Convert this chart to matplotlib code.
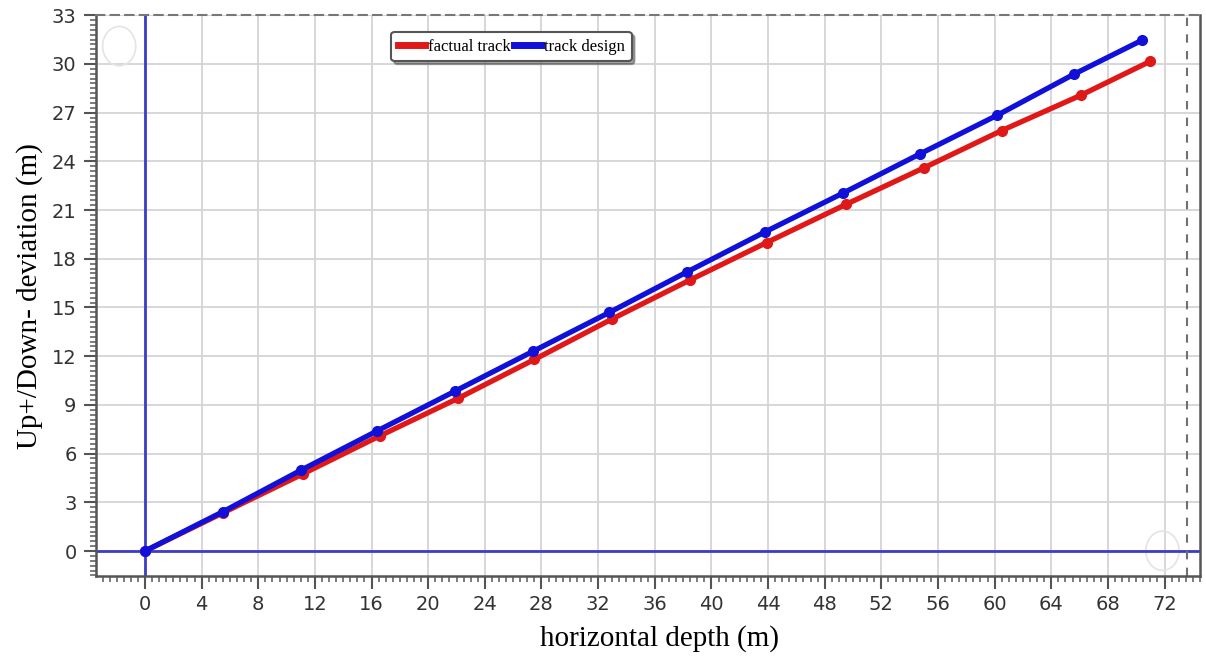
import matplotlib
matplotlib.use("Agg")
import matplotlib.pyplot as plt
from matplotlib.ticker import MultipleLocator
from matplotlib.patches import Ellipse

design_x = [0, 5.5, 11.0, 16.4, 21.9, 27.4, 32.8, 38.3, 43.75, 49.3, 54.7, 60.2, 65.6, 70.4]
design_y = [0, 2.42, 4.97, 7.4, 9.85, 12.3, 14.7, 17.2, 19.64, 22.05, 24.45, 26.85, 29.37, 31.46]
factual_x = [0, 5.5, 11.15, 16.6, 22.1, 27.5, 33.0, 38.5, 43.9, 49.5, 55.0, 60.5, 66.1, 71.0]
factual_y = [0, 2.35, 4.75, 7.1, 9.4, 11.8, 14.3, 16.7, 19.0, 21.35, 23.6, 25.9, 28.08, 30.17]

xticks = list(range(0, 73, 4))
yticks = list(range(0, 34, 3))

fig = plt.figure(figsize=(12.06, 6.64), dpi=100)
ax = fig.add_axes([0.0796, 0.1325, 0.9154, 0.8445])

ax.set_xlim(-3.46, 74.5)
ax.set_ylim(-1.54, 33)

ax.grid(True, color="#d4d4d4", lw=1.3)
ax.set_axisbelow(True)

ax.axvline(0, color="#3c3cc8", lw=2, zorder=2)
ax.axhline(0, color="#3c3cc8", lw=2, zorder=2)
ax.axvline(73.6, color="#707070", lw=1.5, ls=(0, (4, 4)), zorder=2)

ax.plot(factual_x, factual_y, color="#e01818", lw=3.8, marker="o", ms=7,
        label="factual track", zorder=3)
ax.plot(design_x, design_y, color="#1010d8", lw=3.8, marker="o", ms=7,
        label="track design", zorder=4)

# faint ghost circles in the corners
ax.add_patch(Ellipse((0.021, 0.945), 0.03, 0.07, transform=ax.transAxes,
                     fill=False, ec="#e4e4e4", lw=1.2))
ax.add_patch(Ellipse((0.966, 0.045), 0.03, 0.07, transform=ax.transAxes,
                     fill=False, ec="#e4e4e4", lw=1.2))

ax.set_xticks(xticks)
ax.set_yticks(yticks)
ax.xaxis.set_minor_locator(MultipleLocator(0.5))
ax.yaxis.set_minor_locator(MultipleLocator(0.3))
ax.tick_params(which="major", length=9, width=1.5, color="#555555",
               labelsize=14, labelcolor="#333333", pad=5)
ax.tick_params(which="minor", length=4, width=1.2, color="#666666")

for s in ["left", "bottom", "right"]:
    ax.spines[s].set_color("#555555")
    ax.spines[s].set_linewidth(1.8)
ax.spines["top"].set_linestyle((0, (4, 3)))
ax.spines["top"].set_color("#777777")
ax.spines["top"].set_linewidth(1.5)

ax.set_xlabel("horizontal depth (m)", fontsize=21, family="Liberation Serif")
ax.xaxis.set_label_coords(0.51, -0.088)
ax.set_ylabel("Up+/Down- deviation (m)", fontsize=21, family="Liberation Serif", labelpad=6)

leg = ax.legend(loc="upper left", bbox_to_anchor=(0.26, 0.985), ncol=2,
                prop={"family": "Liberation Serif", "size": 12},
                handlelength=1.6, handletextpad=0.2, columnspacing=0.2,
                fancybox=True, shadow=True, framealpha=1, borderpad=0.4)
leg.get_frame().set_edgecolor("#555555")
leg.get_frame().set_linewidth(1.5)
for h in leg.legend_handles:
    h.set_marker("")
    h.set_linewidth(5)

fig.savefig("out.png", dpi=100)
